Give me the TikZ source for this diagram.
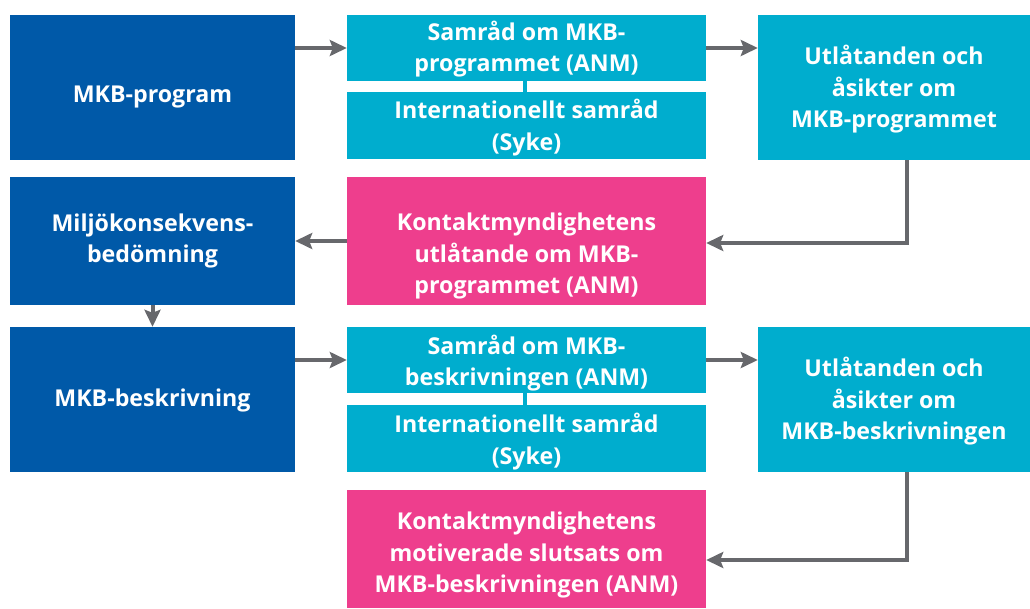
\documentclass[tikz,border=0pt]{standalone}
\usepackage{fontspec}
\setmainfont{Open Sans}
\usetikzlibrary{arrows.meta}
\definecolor{dblue}{HTML}{0059A8}
\definecolor{cyanb}{HTML}{00ADCE}
\definecolor{pinkb}{HTML}{EE3E8D}
\definecolor{arrgray}{HTML}{67686C}
\tikzset{
  box/.style={rectangle, inner sep=0pt},
  bluebox/.style={box, fill=dblue, minimum width=285pt},
  cyanbox/.style={box, fill=cyanb},
  pinkbox/.style={box, fill=pinkb, minimum width=359pt},
  txt/.style={inner sep=0pt, text=white, align=center,
    font=\fontsize{23.2}{31.5}\selectfont\bfseries},
  flow/.style={draw=arrgray, line width=4pt, -{Stealth[length=17pt,width=16pt,inset=3pt]}},
}
\begin{document}
\begin{tikzpicture}[x=1pt,y=-1pt]
\useasboundingbox (0,0) rectangle (1030,608);
\node[bluebox, minimum height=145pt] (A) at (152.5,87.5) {};
\node[cyanbox, minimum width=359pt, minimum height=66pt] (B) at (526.5,48) {};
\node[cyanbox, minimum width=359pt, minimum height=67pt] (C) at (526.5,125.5) {};
\node[cyanbox, minimum width=272pt, minimum height=145pt] (D) at (894,87.5) {};
\node[bluebox, minimum height=128pt] (E) at (152.5,241) {};
\node[pinkbox, minimum height=128pt] (F) at (526.5,241) {};
\node[bluebox, minimum height=145pt] (G) at (152.5,399.5) {};
\node[cyanbox, minimum width=359pt, minimum height=66pt] (H) at (526.5,360) {};
\node[cyanbox, minimum width=359pt, minimum height=67pt] (I) at (526.5,438.5) {};
\node[cyanbox, minimum width=272pt, minimum height=145pt] (J) at (894,399.5) {};
\node[pinkbox, minimum height=118pt] (K) at (526.5,549) {};
\node[txt] (At) at ([yshift=-10pt]A.center) {MKB-program};
\node[txt] (Bt) at ([yshift=-1pt]B.center) {Samråd om MKB-\\programmet (ANM)};
\node[txt] (Ct) at ([yshift=-2pt]C.center) {Internationellt samråd\\(Syke)};
\node[txt] (Dt) at ([yshift=-2pt]D.center) {Utlåtanden och\\åsikter om\\MKB-programmet};
\node[txt] (Et) at (E.center) {Miljökonsekvens-\\bedömning};
\node[txt] (Ft) at ([yshift=-15pt]F.center) {Kontaktmyndighetens\\utlåtande om MKB-\\programmet (ANM)};
\node[txt] (Gt) at ([yshift=-1pt]G.center) {MKB-beskrivning};
\node[txt] (Ht) at ([yshift=-3pt]H.center) {Samråd om MKB-\\beskrivningen (ANM)};
\node[txt] (It) at ([yshift=-3pt]I.center) {Internationellt samråd\\(Syke)};
\node[txt] (Jt) at ([yshift=-2pt]J.center) {Utlåtanden och\\åsikter om\\MKB-beskrivningen};
\node[txt] (Kt) at ([yshift=-6pt]K.center) {Kontaktmyndighetens\\motiverade slutsats om\\MKB-beskrivningen (ANM)};
\draw[cyanb, line width=4pt] ([xshift=-2pt]B.south) -- ([xshift=-2pt]C.north);
\draw[cyanb, line width=4pt] ([xshift=-2pt]H.south) -- ([xshift=-2pt]I.north);
\draw[flow] (A.east |- B.west) -- (B.west);
\draw[flow] (B.east) -- (B.east -| D.west);
\draw[flow] ([xshift=13pt]D.south) |- ([yshift=-2pt]F.east);
\draw[flow] (F.west) -- (E.east);
\draw[flow] (E.south) -- (G.north);
\draw[flow] (G.east |- H.west) -- (H.west);
\draw[flow] (H.east) -- (H.east -| J.west);
\draw[flow] ([xshift=13pt]J.south) |- ([yshift=-11pt]K.east);
\end{tikzpicture}
\end{document}
